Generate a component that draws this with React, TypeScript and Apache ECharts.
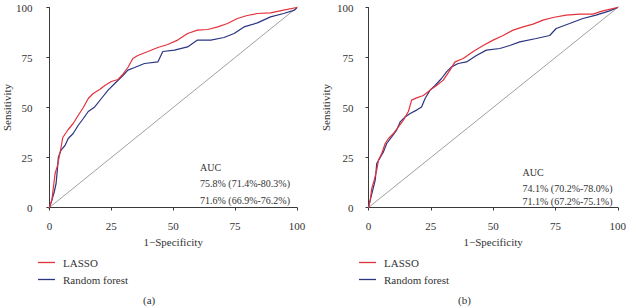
import React, { useEffect, useRef } from "react";
import * as echarts from "echarts";

// ROC curve data: [1 - specificity (%), sensitivity (%)]
const lassoA: [number, number][] = [
  [0, 0], [1, 3.7], [1.6, 10], [2.3, 17], [3.3, 21], [3.9, 25], [4.7, 30], [5.4, 35],
  [7.6, 39], [9.6, 42], [11.6, 46], [13.7, 50], [15.7, 54.5], [17.7, 57], [20.3, 59],
  [22.4, 61], [25, 63], [27.7, 64], [29.7, 66.7], [31.7, 70], [33.7, 74.5], [35.7, 76],
  [39.8, 78], [43.8, 80], [47.8, 81.5], [51.8, 83.7], [55.8, 87], [59.8, 88.7], [63.9, 89],
  [68, 90.3], [71.9, 92], [75.9, 94.5], [79.9, 96], [84, 97], [89.3, 97.3], [94.6, 98.7], [100, 100],
];
const rfA: [number, number][] = [
  [0, 0], [1, 3.7], [2, 8], [2.7, 12], [3.3, 20], [3.6, 25], [4.7, 28.7], [6.3, 31],
  [7.6, 34.5], [9.6, 37], [11.6, 41], [13.7, 44.5], [15.7, 48], [18.3, 50.3], [21, 54.5],
  [23.7, 58.7], [26.4, 62], [29.7, 66], [31.7, 68.7], [34.4, 70], [38.4, 72], [43.8, 72.8],
  [45.8, 78], [50.5, 78.7], [55.8, 80.3], [59.8, 83.7], [65.2, 83.7], [70.5, 85], [74.6, 87],
  [78.6, 90.3], [84, 92.3], [89.3, 95.3], [94.6, 97], [99, 98.7], [100, 100],
];
const lassoB: [number, number][] = [
  [0, 0], [0.7, 3.7], [1.3, 9.5], [2.3, 13.7], [3.3, 18.7], [4, 23.7], [5.3, 27], [6.7, 32],
  [8, 34.5], [10, 37], [12, 40.3], [14, 43.7], [16, 48], [17.3, 53.7], [19.3, 54.8], [22, 56],
  [24.7, 58.7], [27.3, 61], [30, 63.7], [32.7, 68.7], [34.7, 72.8], [38, 74.5], [42, 78],
  [46, 81], [50, 83.7], [54, 86], [58, 88.7], [62, 90.3], [66, 91.7], [70, 93.7], [74, 95],
  [79.3, 96.2], [84.7, 96.7], [90, 96.7], [94, 98.3], [100, 100],
];
const rfB: [number, number][] = [
  [0, 0], [0.7, 3.7], [1.7, 8.7], [2.7, 13.7], [3.3, 22], [4.7, 25], [6, 27.8], [7.3, 32],
  [9.3, 35.3], [11.3, 38.7], [12.7, 42.8], [14.7, 45.3], [16.7, 47], [19.3, 48.7], [21.3, 50.3],
  [22.7, 54.5], [24.7, 58.7], [26.7, 61], [29.3, 64.5], [31.3, 67.8], [33.3, 70.3], [36, 72],
  [39.3, 72.8], [43.3, 76], [47.3, 78.7], [52.7, 79.5], [56.7, 81], [60.7, 82.8], [67.3, 84.5],
  [72.7, 86], [75.3, 89.5], [80.7, 92], [86, 94.5], [91.3, 96.2], [96.7, 98.3], [100, 100],
];
const diagonal: [number, number][] = [[-4, -4], [104, 104]];

const tickValues = [0, 25, 50, 75, 100];
const seriesNames = ["LASSO", "Random forest"];
const aucTitle = "AUC";
const aucTextA = ["75.8% (71.4%-80.3%)", "71.6% (66.9%-76.2%)"];
const aucTextB = ["74.1% (70.2%-78.0%)", "71.1% (67.2%-75.1%)"];
const panelLabels = ["(a)", "(b)"];
const xTitle = "1\u2212Specificity";
const yTitle = "Sensitivity";

const RED = "#e4323c";
const BLUE = "#2b3580";
const FONT = "'Liberation Serif', 'DejaVu Serif', serif";
const AXIS_COLOR = "#3a3a3a";

export default function App() {
  const ref = useRef<HTMLDivElement>(null);
  useEffect(() => {
    if (!ref.current) return;
    const chart = echarts.init(ref.current, undefined, { renderer: "svg" });

    const xAxisBase = (gridIndex: number) => ({
      type: "value" as const,
      gridIndex,
      min: tickValues[0],
      max: tickValues[tickValues.length - 1],
      interval: 25,
      offset: 9,
      splitLine: { show: false },
      axisLine: { show: true, lineStyle: { color: AXIS_COLOR, width: 1 } },
      axisTick: { show: true, length: 3, lineStyle: { color: AXIS_COLOR } },
      axisLabel: { fontFamily: FONT, fontSize: 11, color: "#333", margin: 4 },
      name: xTitle,
      nameLocation: "middle" as const,
      nameGap: 20,
      nameTextStyle: { fontFamily: FONT, fontSize: 11, color: "#333" },
    });
    const yAxisBase = (gridIndex: number, offset: number, nameGap: number) => ({
      type: "value" as const,
      gridIndex,
      min: tickValues[0],
      max: tickValues[tickValues.length - 1],
      interval: 25,
      offset,
      splitLine: { show: false },
      axisLine: { show: true, lineStyle: { color: AXIS_COLOR, width: 1 } },
      axisTick: { show: true, length: 3, lineStyle: { color: AXIS_COLOR } },
      axisLabel: { fontFamily: FONT, fontSize: 11, color: "#333", margin: 5 },
      name: yTitle,
      nameLocation: "middle" as const,
      nameGap,
      nameTextStyle: { fontFamily: FONT, fontSize: 11, color: "#333" },
    });

    const curve = (name: string, data: [number, number][], color: string, idx: number) => ({
      type: "line" as const,
      name,
      data,
      xAxisIndex: idx,
      yAxisIndex: idx,
      showSymbol: false,
      symbol: "none",
      lineStyle: { color, width: 1.2 },
      itemStyle: { color },
      z: 3,
    });
    const diag = (idx: number) => ({
      type: "line" as const,
      name: "diag" + idx,
      data: diagonal,
      xAxisIndex: idx,
      yAxisIndex: idx,
      showSymbol: false,
      symbol: "none",
      clip: false,
      silent: true,
      lineStyle: { color: "#a0a0a0", width: 1 },
      z: 1,
    });

    const legendBase = (left: number) => ({
      orient: "vertical" as const,
      left,
      top: 252,
      padding: 5,
      icon: "rect",
      itemWidth: 17,
      itemHeight: 1.3,
      itemGap: 6,
      data: seriesNames,
      textStyle: { fontFamily: FONT, fontSize: 11, color: "#333", padding: [0, 0, 0, 3] },
      selectedMode: false,
    });

    const aucGraphic = (left: number, tops: number[], lines: string[]) => [
      { type: "text", left, top: tops[0], style: { text: aucTitle, font: `10px ${FONT}`, fill: "#333" } },
      { type: "text", left, top: tops[1], style: { text: lines[0], font: `10px ${FONT}`, fill: "#333" } },
      { type: "text", left, top: tops[2], style: { text: lines[1], font: `10px ${FONT}`, fill: "#333" } },
    ];

    chart.setOption({
      animation: false,
      grid: [
        { left: 48, top: 7.5, width: 249, height: 200 },
        { left: 368.5, top: 7.5, width: 250, height: 200 },
      ],
      xAxis: [xAxisBase(0), xAxisBase(1)],
      yAxis: [yAxisBase(0, 12, 23), yAxisBase(1, 10, 27)],
      legend: [legendBase(33), legendBase(354)],
      series: [
        diag(0),
        curve(seriesNames[1], rfA, BLUE, 0),
        curve(seriesNames[0], lassoA, RED, 0),
        diag(1),
        curve(seriesNames[1], rfB, BLUE, 1),
        curve(seriesNames[0], lassoB, RED, 1),
      ],
      graphic: [
        ...aucGraphic(200, [162, 178, 195], aucTextA),
        ...aucGraphic(522.5, [167, 183, 196], aucTextB),
        { type: "text", left: 143, top: 294, style: { text: panelLabels[0], font: `11px ${FONT}`, fill: "#333" } },
        { type: "text", left: 458, top: 294, style: { text: panelLabels[1], font: `11px ${FONT}`, fill: "#333" } },
      ],
    });
    return () => chart.dispose();
  }, []);
  return <div ref={ref} style={{ width: 629, height: 307, position: "absolute", left: 0, top: 0, background: "#fff" }} />;
}
